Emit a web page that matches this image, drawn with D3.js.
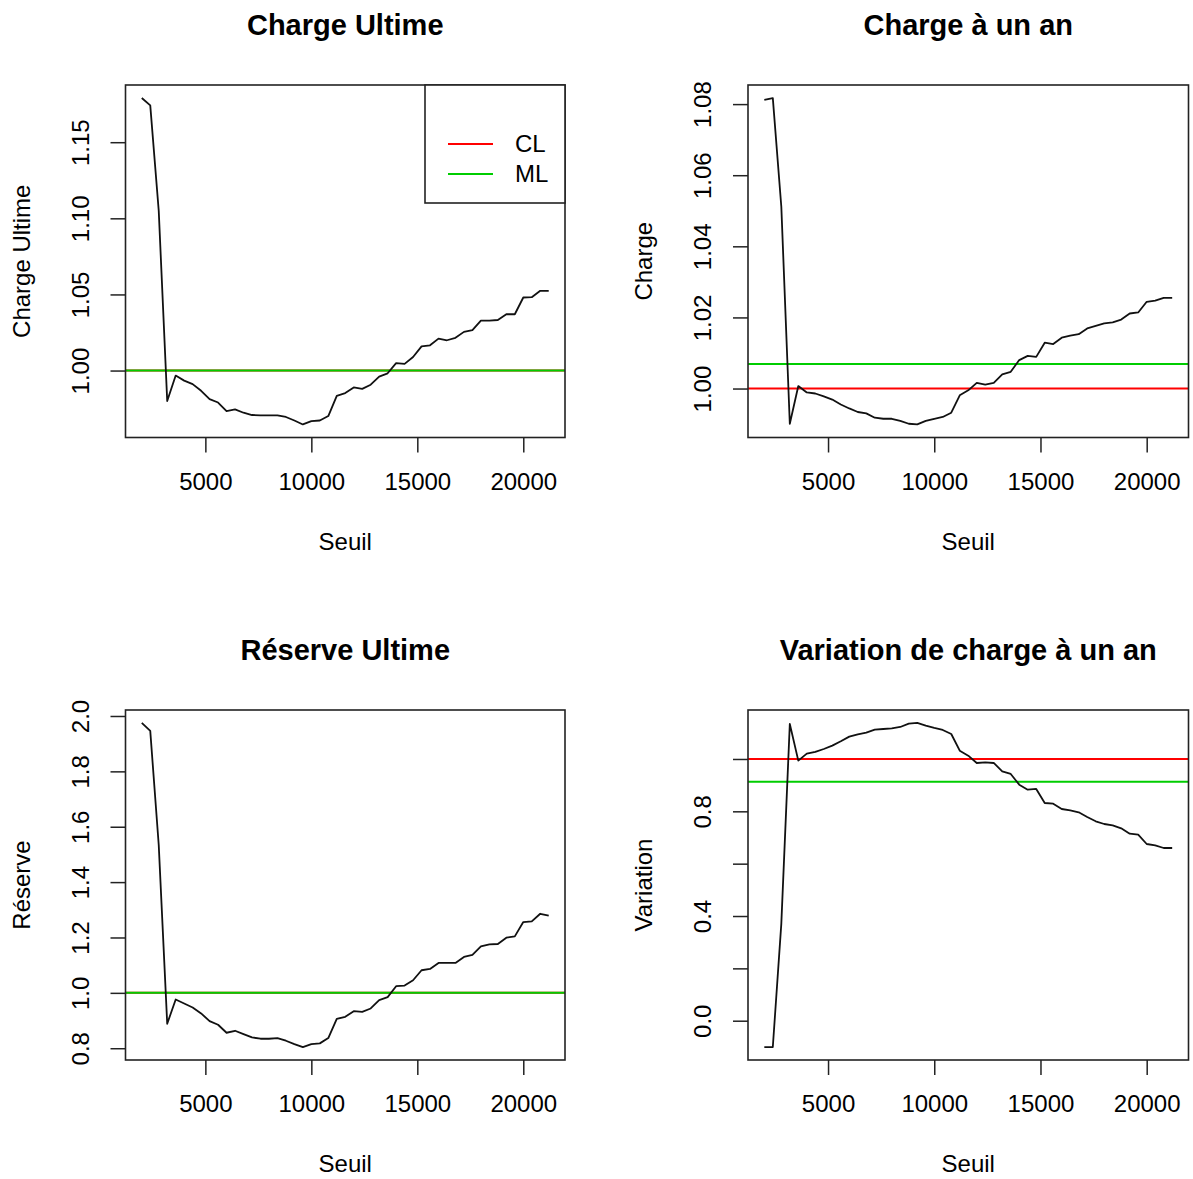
<!DOCTYPE html>
<html>
<head>
<meta charset="utf-8">
<script src="https://cdn.jsdelivr.net/npm/d3@7"></script>
<style>
body { margin: 0; background: #fff; }
text { font-family: "Liberation Sans", Arial, sans-serif; fill: #000; }
</style>
</head>
<body>
<script>
// Data
var seuil = [2000, 2400, 2800, 3200, 3600, 4000, 4400, 4800, 5200, 5600,
  6000, 6400, 6800, 7200, 7600, 8000, 8400, 8800, 9200, 9600,
  10000, 10400, 10800, 11200, 11600, 12000, 12400, 12800, 13200, 13600,
  14000, 14400, 14800, 15200, 15600, 16000, 16400, 16800, 17200, 17600,
  18000, 18400, 18800, 19200, 19600, 20000, 20400, 20800, 21200];

var chargeUltime = [1.179, 1.1742, 1.105, 0.980, 0.9967, 0.9934, 0.9911, 0.9867, 0.9812, 0.9790,
  0.9734, 0.9745, 0.9723, 0.9708, 0.9706, 0.9706, 0.9706, 0.9695, 0.9672, 0.9646,
  0.9668, 0.9672, 0.9701, 0.9834, 0.9852, 0.9889, 0.9880, 0.9907, 0.9960, 0.9982,
  1.0049, 1.0044, 1.0089, 1.0159, 1.0166, 1.0210, 1.0199, 1.0215, 1.0254, 1.0266,
  1.0328, 1.0328, 1.0332, 1.0370, 1.0370, 1.0480, 1.0482, 1.0524, 1.0524];

var chargeUnAn = [1.0812, 1.0817, 1.0512, 0.9901, 1.0007, 0.9989, 0.9986, 0.9978, 0.9969, 0.9955,
  0.9944, 0.9934, 0.9930, 0.9918, 0.9915, 0.9915, 0.9909, 0.9901, 0.9899, 0.9909,
  0.9915, 0.9920, 0.9932, 0.9981, 0.9995, 1.0016, 1.0011, 1.0016, 1.0040, 1.0047,
  1.0080, 1.0092, 1.0089, 1.0129, 1.0125, 1.0143, 1.0149, 1.0153, 1.0169, 1.0176,
  1.0183, 1.0186, 1.0194, 1.0211, 1.0214, 1.0244, 1.0247, 1.0255, 1.0255];

var reserveUltime = [1.9748, 1.946, 1.534, 0.8884, 0.976, 0.9616, 0.9472, 0.9256, 0.898, 0.8848,
  0.8559, 0.8631, 0.8511, 0.8391, 0.8343, 0.8343, 0.8367, 0.8271, 0.8151, 0.8043,
  0.8151, 0.8175, 0.8367, 0.9064, 0.9136, 0.934, 0.9316, 0.9436, 0.9736, 0.9844,
  1.024, 1.0264, 1.0456, 1.0816, 1.0864, 1.108, 1.108, 1.108, 1.1297, 1.1369,
  1.1681, 1.1753, 1.1765, 1.1993, 1.2041, 1.2557, 1.2581, 1.2857, 1.2785];

var variationUnAn = [-0.1006, -0.1006, 0.37, 1.1338, 0.9936, 1.0204, 1.0268, 1.0382, 1.051, 1.0675,
  1.0854, 1.0943, 1.1006, 1.1121, 1.1146, 1.1172, 1.1223, 1.135, 1.1376, 1.1274,
  1.1185, 1.1108, 1.0955, 1.0318, 1.0127, 0.9847, 0.9873, 0.9847, 0.9529, 0.9427,
  0.9019, 0.8828, 0.8854, 0.8318, 0.8293, 0.8089, 0.8038, 0.7962, 0.7783, 0.7618,
  0.7516, 0.7465, 0.735, 0.7146, 0.7108, 0.6752, 0.6701, 0.6599, 0.6599];

// Reference levels (CL red, ML green), one per panel
var refCL = [1.00, 1.00, 1.00, 1.00];
var refML = [1.00, 1.0069, 1.00, 0.913];

// Ticks
var xTicks = [5000, 10000, 15000, 20000];
var yTicksChargeUlt = [1.00, 1.05, 1.10, 1.15];
var yTicksChargeAn = [1.00, 1.02, 1.04, 1.06, 1.08];
var yTicksReserve = [0.8, 1.0, 1.2, 1.4, 1.6, 1.8, 2.0];
var yTicksVariation = [0.0, 0.2, 0.4, 0.6, 0.8, 1.0];
var yLabelsVariation = ["0.0", "", "0.4", "", "0.8", ""];

var legendLabels = ["CL", "ML"];
var colCL = "#FF0000", colML = "#00CD00";

//Formats
var width = 1193, height = 1179;

var panels = [
  {title: "Charge Ultime", ylab: "Charge Ultime", values: chargeUltime, ticks: yTicksChargeUlt,
   fmt: d3.format(".2f"), box: [125.5, 85, 565, 437.5], legend: true},
  {title: "Charge à un an", ylab: "Charge", values: chargeUnAn, ticks: yTicksChargeAn,
   fmt: d3.format(".2f"), box: [748, 85, 1188.5, 437.5]},
  {title: "Réserve Ultime", ylab: "Réserve", values: reserveUltime, ticks: yTicksReserve,
   fmt: d3.format(".1f"), box: [125.5, 710, 565, 1060]},
  {title: "Variation de charge à un an", ylab: "Variation", values: variationUnAn, ticks: yTicksVariation,
   fmt: function(d, i) { return yLabelsVariation[i]; }, box: [748, 710, 1188.5, 1060]}
];

var svg = d3.select("body").append("svg")
  .attr("width", width)
  .attr("height", height);

svg.append("rect").attr("width", width).attr("height", height).attr("fill", "#fff");

// R style range: data extent plus 4 %
function padded(arr) {
  var e = d3.extent(arr), r = e[1] - e[0];
  return [e[0] - 0.04 * r, e[1] + 0.04 * r];
}

panels.forEach(function(p, k) {
  var L = p.box[0], T = p.box[1], R = p.box[2], B = p.box[3];
  var x = d3.scaleLinear().domain(padded(seuil)).range([L, R]);
  var y = d3.scaleLinear().domain(padded(p.values)).range([B, T]);
  var g = svg.append("g");

  //Reference lines
  g.append("line")
    .attr("x1", L).attr("x2", R)
    .attr("y1", y(refCL[k])).attr("y2", y(refCL[k]))
    .attr("stroke", colCL).attr("stroke-width", 2);
  g.append("line")
    .attr("x1", L).attr("x2", R)
    .attr("y1", y(refML[k])).attr("y2", y(refML[k]))
    .attr("stroke", colML).attr("stroke-width", 2);

  //Series line
  var line = d3.line()
    .x(function(d, i) { return x(seuil[i]); })
    .y(function(d) { return y(d); });
  g.append("path")
    .datum(p.values)
    .attr("d", line)
    .attr("fill", "none")
    .attr("stroke", "#111")
    .attr("stroke-width", 1.8)
    .attr("stroke-linejoin", "round");

  //Axis
  var xAxis = d3.axisBottom(x).tickValues(xTicks).tickSize(15).tickSizeOuter(0)
    .tickFormat(d3.format("d"));
  var gx = g.append("g")
    .attr("transform", "translate(0," + B + ")")
    .call(xAxis);
  gx.select(".domain").remove();
  gx.selectAll("line").attr("stroke", "#222").attr("stroke-width", 1.5);
  gx.selectAll("text")
    .attr("y", 52).attr("dy", 0)
    .style("font-size", "24px")
    .style("font-family", "'Liberation Sans', Arial, sans-serif")
    .attr("fill", "#000");

  var yAxis = d3.axisLeft(y).tickValues(p.ticks).tickSize(15).tickSizeOuter(0)
    .tickFormat(p.fmt);
  var gy = g.append("g")
    .attr("transform", "translate(" + L + ",0)")
    .call(yAxis);
  gy.select(".domain").remove();
  gy.selectAll("line").attr("stroke", "#222").attr("stroke-width", 1.5);
  gy.selectAll("text")
    .attr("x", 0).attr("y", -37).attr("dy", 0)
    .attr("transform", "rotate(-90)")
    .attr("text-anchor", "middle")
    .style("font-size", "24px")
    .style("font-family", "'Liberation Sans', Arial, sans-serif")
    .attr("fill", "#000");

  //Box
  g.append("rect")
    .attr("x", L).attr("y", T)
    .attr("width", R - L).attr("height", B - T)
    .attr("fill", "none")
    .attr("stroke", "#222")
    .attr("stroke-width", 1.6);

  //Titles
  g.append("text")
    .attr("x", (L + R) / 2).attr("y", T - 50)
    .attr("text-anchor", "middle")
    .style("font-size", "29px")
    .style("font-weight", "bold")
    .text(p.title);

  g.append("text")
    .attr("x", (L + R) / 2).attr("y", B + 112)
    .attr("text-anchor", "middle")
    .style("font-size", "24px")
    .text("Seuil");

  g.append("text")
    .attr("transform", "translate(" + (L - 96) + "," + ((T + B) / 2) + ") rotate(-90)")
    .attr("text-anchor", "middle")
    .style("font-size", "24px")
    .text(p.ylab);

  //Legend
  if (p.legend) {
    var lg = g.append("g").attr("class", "legend");
    lg.append("rect")
      .attr("x", 425).attr("y", T)
      .attr("width", R - 425).attr("height", 118)
      .attr("fill", "#fff")
      .attr("stroke", "#222")
      .attr("stroke-width", 1.6);
    [colCL, colML].forEach(function(c, i) {
      var yy = T + 59 + i * 30;
      lg.append("line")
        .attr("x1", 448).attr("x2", 493)
        .attr("y1", yy).attr("y2", yy)
        .attr("stroke", c).attr("stroke-width", 2);
      lg.append("text")
        .attr("x", 515).attr("y", yy)
        .attr("dy", "0.35em")
        .style("font-size", "24px")
        .text(legendLabels[i]);
    });
  }
});
</script>
</body>
</html>
